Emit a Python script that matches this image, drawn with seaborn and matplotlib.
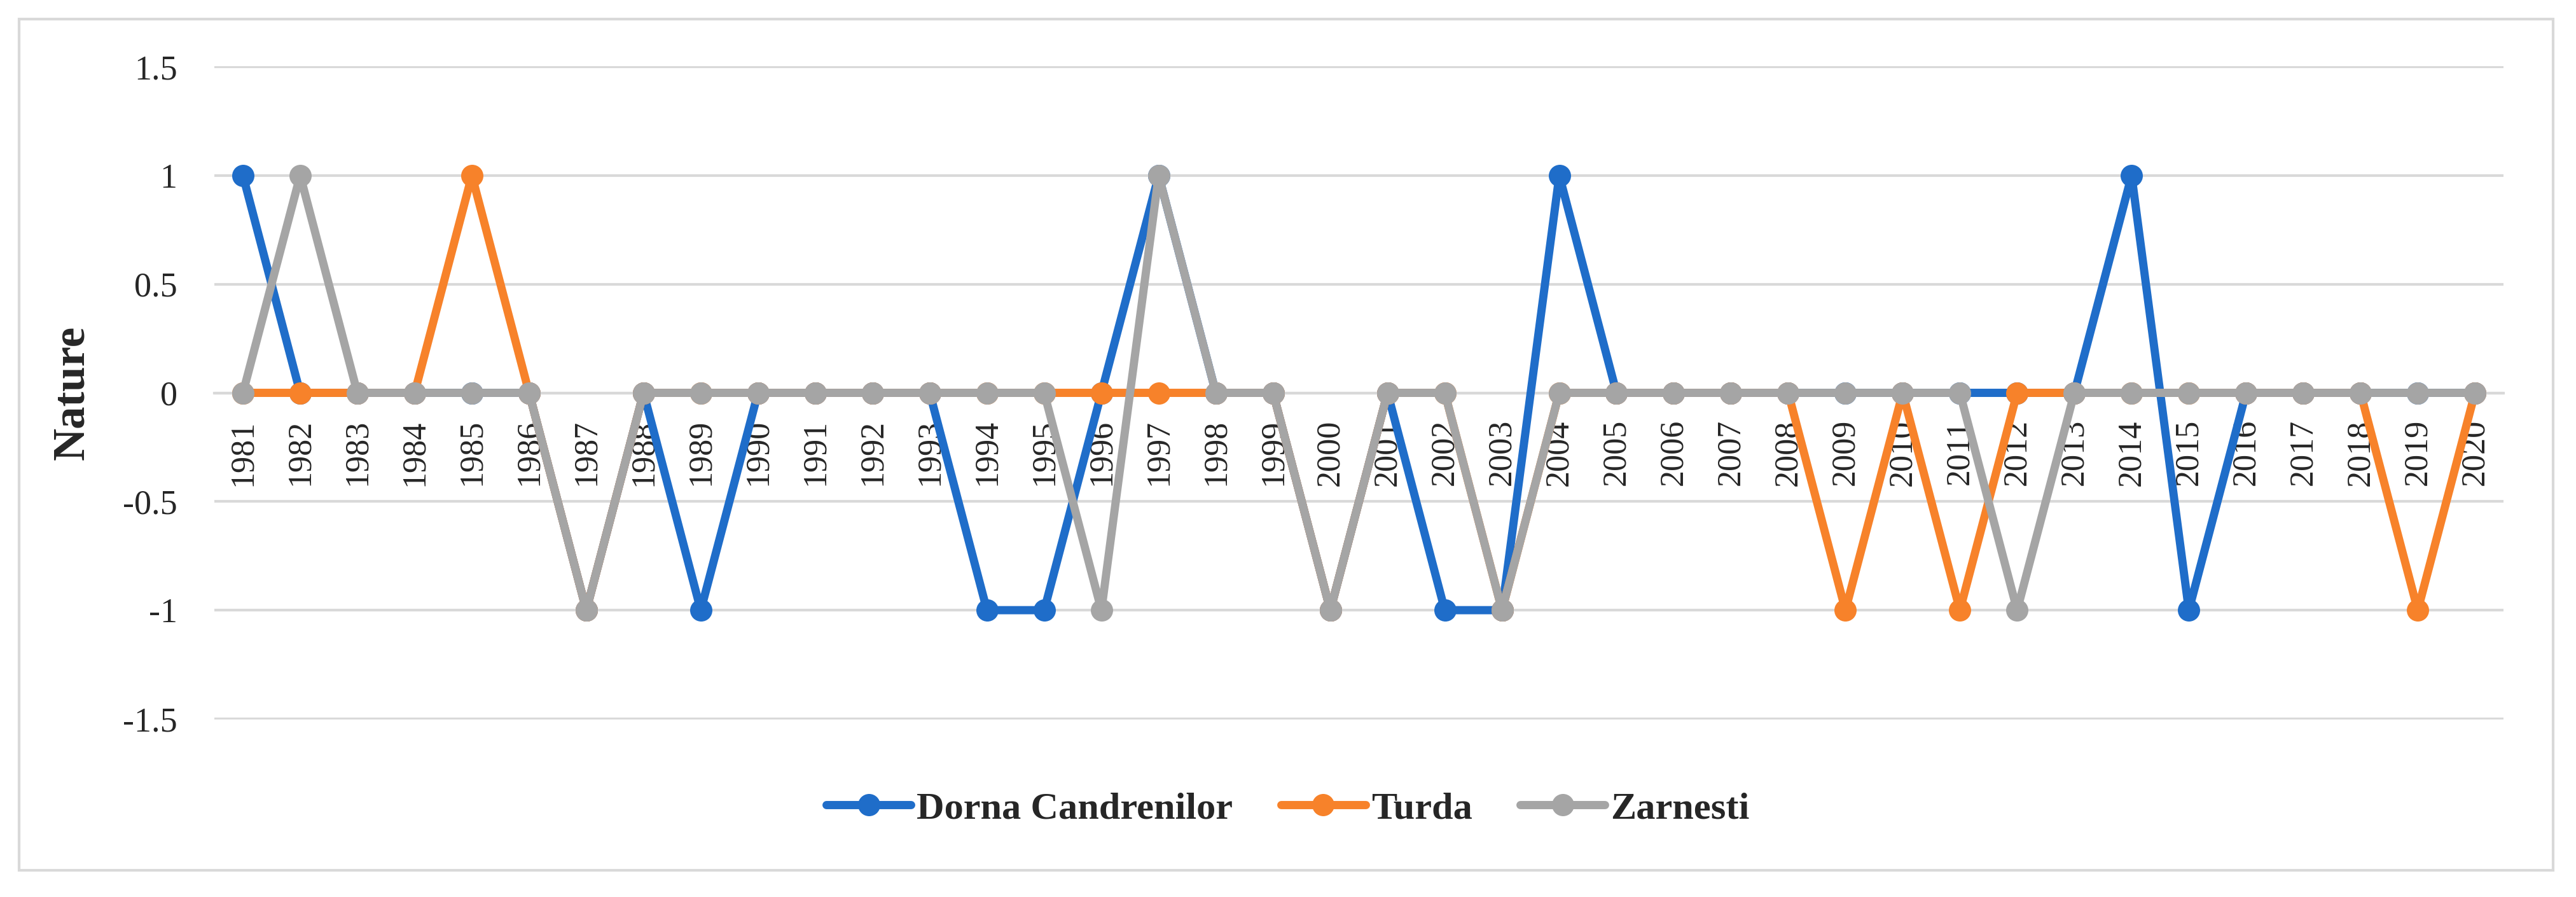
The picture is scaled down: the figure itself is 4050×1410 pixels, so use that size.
import pandas as pd
import numpy as np
import matplotlib.pyplot as plt
import seaborn as sns

years = list(range(1981, 2021))
dorna = [1, 0, 0, 0, 0, 0, -1, 0, -1, 0,
         0, 0, 0, -1, -1, 0, 1, 0, 0, -1,
         0, -1, -1, 1, 0, 0, 0, 0, 0, 0,
         0, 0, 0, 1, -1, 0, 0, 0, 0, 0]
turda = [0, 0, 0, 0, 1, 0, -1, 0, 0, 0,
         0, 0, 0, 0, 0, 0, 0, 0, 0, -1,
         0, 0, -1, 0, 0, 0, 0, 0, -1, 0,
         -1, 0, 0, 0, 0, 0, 0, 0, -1, 0]
zarnesti = [0, 1, 0, 0, 0, 0, -1, 0, 0, 0,
            0, 0, 0, 0, 0, -1, 1, 0, 0, -1,
            0, 0, -1, 0, 0, 0, 0, 0, 0, 0,
            0, -1, 0, 0, 0, 0, 0, 0, 0, 0]
stations = ['Dorna Candrenilor', 'Turda', 'Zarnesti']
colors = ['#1f6dc9', '#f7822a', '#a5a5a5']
yticks = [-1.5, -1, -0.5, 0, 0.5, 1, 1.5]
ytick_labels = ['-1.5', '-1', '-0.5', '0', '0.5', '1', '1.5']

df = pd.DataFrame({
    'idx': list(range(len(years))) * 3,
    'value': dorna + turda + zarnesti,
    'station': [s for s in stations for _ in years],
})

sns.set_style('white')
plt.rcParams['font.family'] = ['Liberation Serif', 'DejaVu Serif']

fig = plt.figure(figsize=(13.5, 4.7), dpi=300)
ax = fig.add_axes([0.0832, 0.1979, 0.8887, 0.7283])

sns.lineplot(data=df, x='idx', y='value', hue='station', hue_order=stations,
             palette=colors, marker='o', markersize=8.4, markeredgewidth=0,
             linewidth=3.1, sort=False, ax=ax, zorder=3)

# category axis drawn through y = 0, labels hang just below it
ax.spines['bottom'].set_position(('data', 0))
ax.spines['bottom'].set_color('#d9d9d9')
ax.spines['bottom'].set_linewidth(1.0)
for s in ['top', 'left', 'right']:
    ax.spines[s].set_visible(False)

ax.set_xlim(-0.5, len(years) - 0.5)
ax.set_ylim(-1.503, 1.503)
ax.set_yticks(yticks)
ax.set_yticklabels(ytick_labels, fontsize=13)
ax.set_xticks(range(len(years)))
ax.set_xticklabels(years, fontsize=12.5)
ax.tick_params(axis='x', length=0, pad=10, labelrotation=90)
ax.tick_params(axis='y', length=0, pad=14)

ax.yaxis.grid(True, color='#d9d9d9', linewidth=1.0)
ax.set_axisbelow(True)

ax.set_xlabel('')
ax.set_ylabel('Nature', fontsize=17, fontweight='bold')
ax.yaxis.set_label_coords(-0.053, 0.5)

handles, labels = ax.get_legend_handles_labels()
ax.get_legend().remove()
fig.legend(handles, labels, loc='center', bbox_to_anchor=(0.5, 0.098), ncol=3,
           frameon=False, prop={'size': 14.5, 'weight': 'bold'},
           handlelength=2.2, handletextpad=0.15, columnspacing=1.25)

fig.patches.append(plt.Rectangle((0.0074, 0.0298), 0.9837, 0.949, transform=fig.transFigure,
                                 fill=False, edgecolor='#d9d9d9', linewidth=1.0))

plt.savefig('out.png', dpi=300)
